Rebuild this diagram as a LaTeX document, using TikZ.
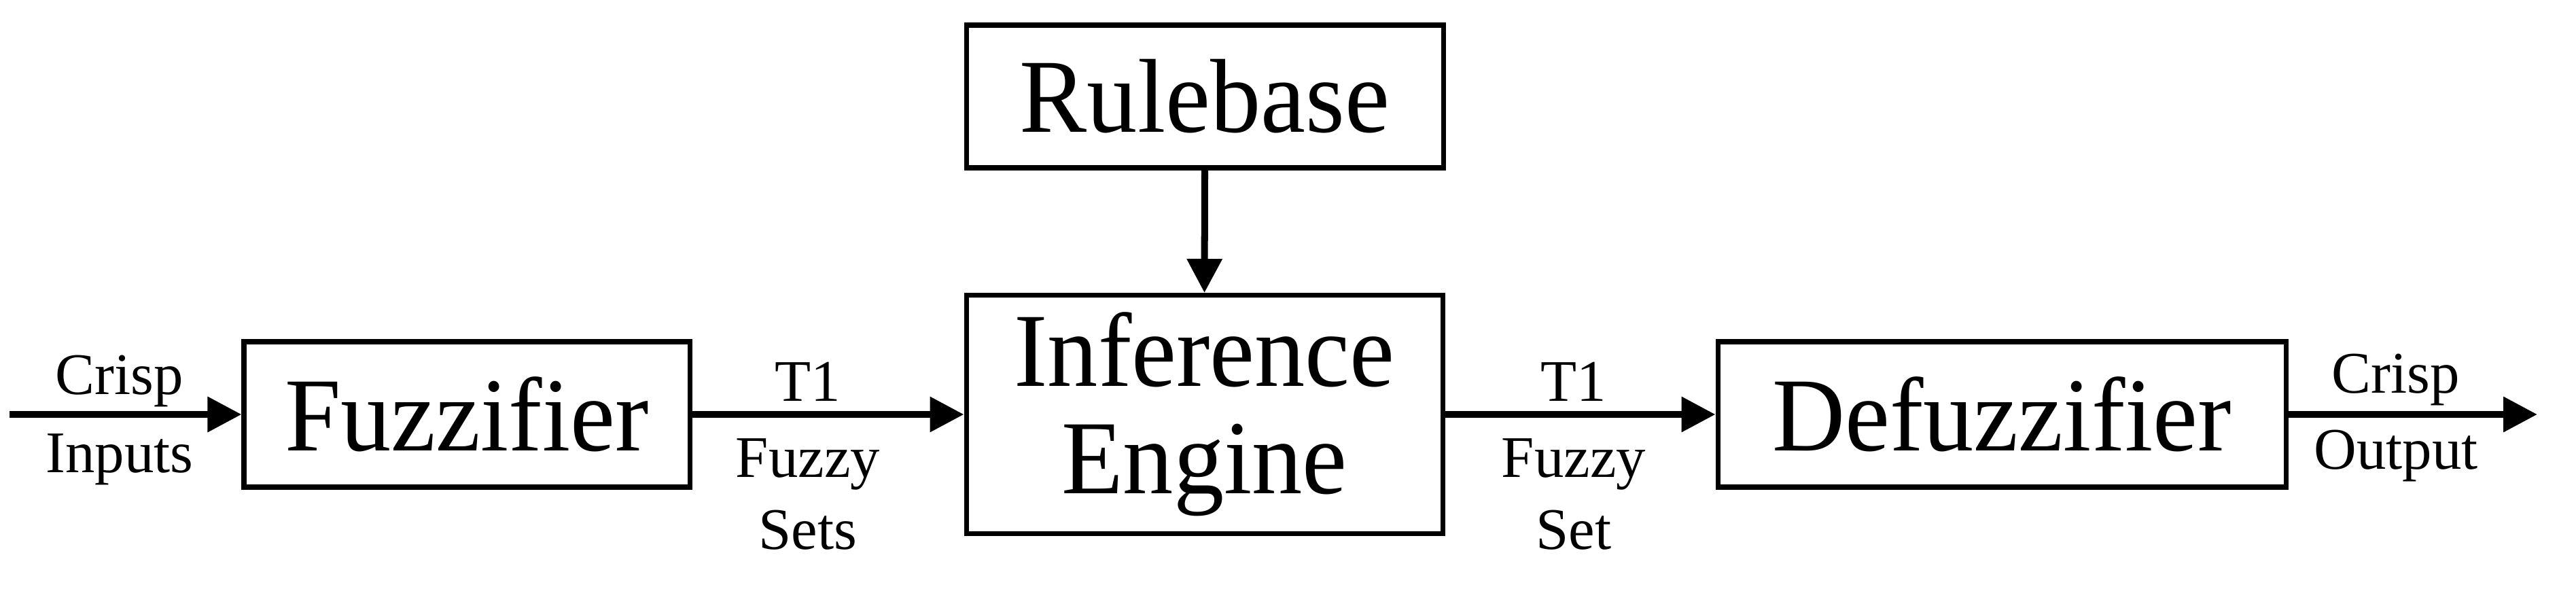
\documentclass[tikz,border=0pt]{standalone}
\usepackage{fontspec}
\setmainfont{Liberation Serif}
\newfontfamily\bigserif[FakeStretch=0.96]{Liberation Serif}
\usetikzlibrary{arrows.meta}
\begin{document}
\begin{tikzpicture}[
  blk/.style={draw, line width=2pt, minimum height=2.14cm, inner sep=0pt,
    font=\bigserif\fontsize{44}{45}\selectfont, align=center},
  flow/.style={line width=2.85pt, -{Triangle[length=0.5cm,width=0.5cm]}},
  lbl/.style={font=\fontsize{24.7}{26}\selectfont, anchor=base, inner sep=0pt}
]
\useasboundingbox (0,0) rectangle (37.91,8.91);

\node[blk, minimum width=6.56cm] (fuzz) at (6.87,2.81) {Fuzzifier};
\node[blk, minimum width=7.01cm, minimum height=3.51cm] (inf) at (17.725,2.81) {Inference\\Engine};
\node[blk, minimum width=7.02cm, minimum height=2.10cm] (rule) at (17.73,7.49) {Rulebase};
\node[blk, minimum width=8.36cm] (defuzz) at (29.46,2.81) {Defuzzifier};

\coordinate (in) at (0.14,2.81);
\coordinate (out) at (37.34,2.81);

\draw[flow] (in) -- (fuzz.west);
\draw[flow] (fuzz.east) -- (inf.west);
\draw[flow] (rule.south) -- (inf.north);
\draw[flow] (inf.east) -- (defuzz.west);
\draw[flow] (defuzz.east) -- (out);

\node[lbl] (crispin) at (1.76,3.11) {Crisp};
\node[lbl] (inputs) at (1.76,1.96) {Inputs};
\node[lbl] (t1a) at (11.89,3.01) {T1};
\node[lbl] (fuzzya) at (11.89,1.89) {Fuzzy};
\node[lbl] (sets) at (11.89,0.83) {Sets};
\node[lbl] (t1b) at (23.16,3.01) {T1};
\node[lbl] (fuzzyb) at (23.16,1.89) {Fuzzy};
\node[lbl] (set) at (23.16,0.83) {Set};
\node[lbl] (crispout) at (35.26,3.13) {Crisp};
\node[lbl] (output) at (35.26,2.01) {Output};
\end{tikzpicture}
\end{document}
